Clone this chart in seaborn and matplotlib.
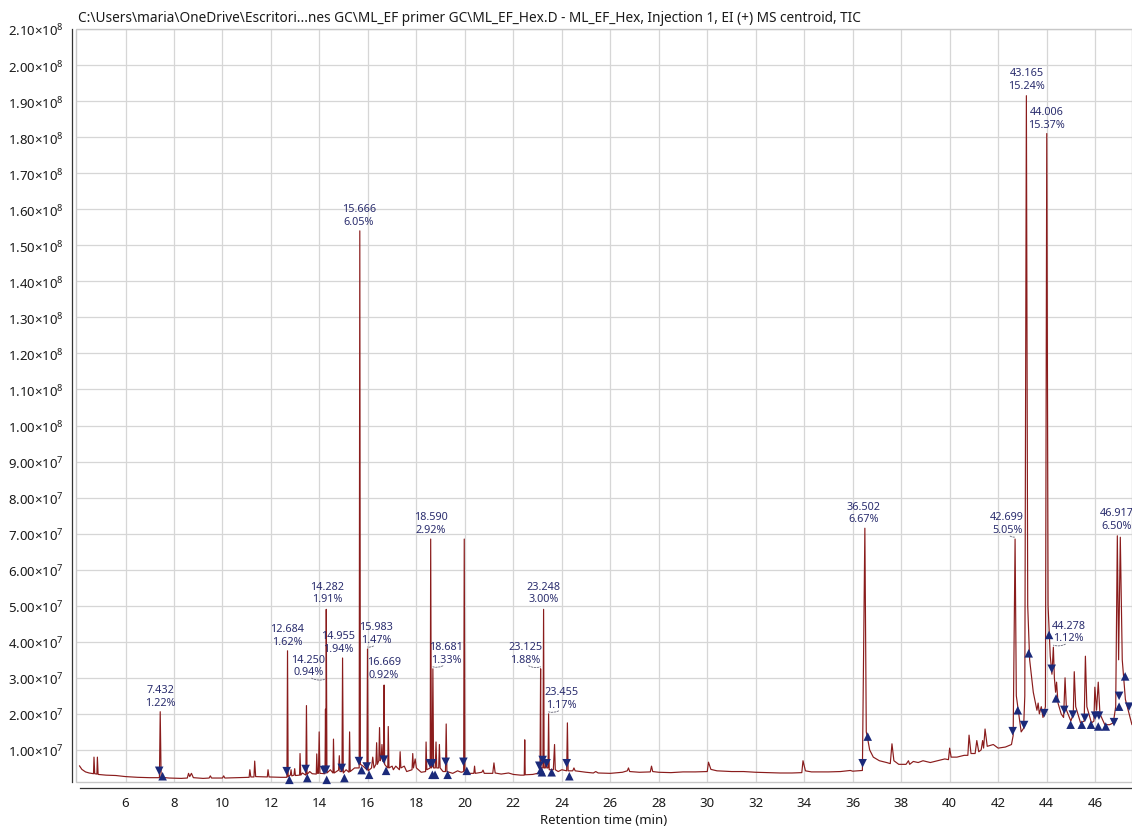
import numpy as np
import pandas as pd
import matplotlib
matplotlib.use("Agg")
import matplotlib.pyplot as plt
import matplotlib.ticker as mticker
import matplotlib.transforms as mtransforms
from matplotlib.patches import Rectangle
import seaborn as sns

# ---------------- data ----------------
trace_time = [
    4.10, 4.20, 4.35, 4.50, 4.68, 4.70, 4.73, 4.82, 4.84, 4.87, 5.20, 5.60, 6.00, 6.50, 7.00,
    7.40, 7.432, 7.47, 7.80, 8.30, 8.55, 8.60, 8.65, 8.72, 8.80, 9.20, 9.45, 9.50, 9.55, 10.00,
    10.05, 10.10, 10.60, 11.10, 11.13, 11.17, 11.30, 11.33, 11.37, 11.85, 11.88, 11.92, 12.40,
    12.66, 12.684, 12.71, 12.80, 12.83, 12.86, 12.95, 12.98, 13.01, 13.18, 13.20, 13.23, 13.30,
    13.44, 13.465, 13.49, 13.60, 13.70, 13.87, 13.89, 13.92, 13.96, 13.99, 14.02, 14.23, 14.25,
    14.265, 14.282, 14.31, 14.45, 14.56, 14.58, 14.61, 14.79, 14.82, 14.85, 14.93, 14.955, 14.985,
    15.10, 15.22, 15.245, 15.27, 15.45, 15.64, 15.666, 15.69, 15.80, 15.96, 15.983, 16.01, 16.15,
    16.20, 16.25, 16.33, 16.36, 16.39, 16.45, 16.48, 16.51, 16.55, 16.58, 16.62, 16.645, 16.669,
    16.69, 16.75, 16.82, 16.84, 16.87, 17.00, 17.05, 17.15, 17.30, 17.33, 17.36, 17.50, 17.60,
    17.82, 17.85, 17.88, 17.95, 18.00, 18.20, 18.38, 18.40, 18.43, 18.57, 18.59, 18.62, 18.65,
    18.681, 18.71, 18.78, 18.81, 18.84, 18.92, 18.95, 18.98, 19.10, 19.20, 19.23, 19.26, 19.50,
    19.70, 19.85, 19.95, 19.975, 20.00, 20.20, 20.37, 20.40, 20.43, 20.70, 20.75, 20.80, 21.15,
    21.20, 21.25, 21.50, 21.80, 22.00, 22.30, 22.45, 22.47, 22.49, 22.80, 23.00, 23.10, 23.125,
    23.14, 23.22, 23.248, 23.27, 23.32, 23.35, 23.38, 23.43, 23.455, 23.48, 23.65, 23.70, 23.73,
    23.85, 24.00, 24.20, 24.23, 24.26, 24.45, 24.50, 24.55, 25.00, 25.30, 25.40, 25.50, 26.00,
    26.50, 26.70, 26.75, 26.80, 27.20, 27.65, 27.70, 27.75, 28.00, 28.50, 29.00, 29.50, 30.00,
    30.05, 30.15, 30.40, 31.00, 31.50, 32.00, 32.50, 33.00, 33.50, 33.90, 33.95, 34.05, 34.30,
    35.00, 35.50, 35.90, 36.00, 36.40, 36.502, 36.56, 36.62, 36.70, 36.85, 37.10, 37.40, 37.55,
    37.62, 37.70, 37.90, 38.20, 38.30, 38.35, 38.50, 38.70, 38.90, 39.20, 39.50, 39.80, 39.95,
    40.00, 40.06, 40.30, 40.60, 40.75, 40.80, 40.88, 41.05, 41.12, 41.20, 41.30, 41.36, 41.40,
    41.46, 41.55, 41.80, 42.00, 42.30, 42.55, 42.62, 42.699, 42.75, 42.85, 42.95, 43.05, 43.10,
    43.165, 43.22, 43.30, 43.45, 43.60, 43.65, 43.70, 43.78, 43.85, 43.95, 44.006, 44.06, 44.15,
    44.22, 44.278, 44.32, 44.37, 44.41, 44.47, 44.60, 44.70, 44.76, 44.82, 45.00, 45.10, 45.14,
    45.20, 45.40, 45.55, 45.60, 45.66, 45.85, 45.95, 45.99, 46.06, 46.13, 46.20, 46.40, 46.60,
    46.75, 46.85, 46.917, 46.97, 47.04, 47.12, 47.25, 47.52,
]
trace_signal_e6 = [
    5.6, 4.6, 3.9, 3.6, 3.4, 8.0, 3.4, 3.3, 8.0, 3.2, 3.0, 2.9, 2.6, 2.4, 2.3,
    2.3, 20.6, 2.4, 2.2, 2.1, 2.2, 3.5, 2.6, 3.5, 2.3, 2.1, 2.2, 2.8, 2.2, 2.2,
    2.8, 2.2, 2.3, 2.4, 4.5, 2.5, 2.5, 6.9, 2.6, 2.5, 4.5, 2.5, 2.4,
    2.4, 37.5, 2.6, 3.0, 4.5, 2.8, 3.0, 4.8, 2.9, 3.0, 9.0, 3.0, 3.6,
    3.0, 22.3, 3.2, 4.0, 3.4, 3.3, 8.9, 3.5, 3.5, 15.0, 3.5, 3.4, 21.3,
    5.0, 49.0, 3.6, 4.5, 3.6, 13.0, 3.6, 4.4, 8.4, 4.0, 4.0, 35.5, 3.6,
    4.5, 3.8, 15.0, 4.0, 5.0, 5.0, 154.0, 6.0, 5.5, 4.5, 38.0, 4.2, 5.0,
    8.0, 5.0, 6.0, 12.0, 6.0, 7.0, 16.2, 7.0, 8.0, 11.5, 6.8, 7.0, 28.0,
    6.0, 5.5, 5.0, 16.5, 5.0, 5.5, 4.5, 5.5, 4.5, 9.5, 5.0, 5.5, 4.0,
    4.5, 9.0, 5.0, 7.5, 5.0, 3.8, 4.0, 12.2, 4.5, 5.0, 68.5, 5.0, 5.5,
    32.5, 5.0, 5.0, 12.2, 5.0, 5.0, 11.5, 5.0, 4.0, 4.0, 17.2, 4.0, 3.5,
    4.2, 3.8, 4.0, 68.5, 4.2, 3.5, 3.5, 5.5, 3.5, 3.8, 4.4, 3.5, 3.5,
    6.4, 3.6, 3.3, 3.6, 3.2, 3.0, 3.0, 12.8, 3.1, 3.2, 3.5, 4.0, 32.5,
    5.0, 5.0, 49.0, 5.0, 5.0, 7.0, 5.0, 5.0, 20.0, 4.5, 4.5, 11.5, 4.5,
    4.0, 4.5, 4.2, 17.5, 4.2, 4.2, 5.0, 4.2, 3.8, 3.6, 4.0, 3.6, 3.5,
    3.8, 4.2, 5.0, 4.0, 3.8, 3.9, 5.5, 4.0, 3.8, 3.7, 3.9, 3.9, 4.0,
    6.6, 4.6, 4.2, 4.0, 4.0, 3.8, 3.7, 3.6, 3.6, 3.7, 7.0, 4.2, 3.9,
    3.9, 4.0, 4.3, 4.1, 4.3, 71.5, 15.0, 13.0, 10.0, 8.0, 7.0, 6.5, 6.2,
    11.7, 7.0, 6.0, 6.0, 7.0, 6.0, 6.8, 6.5, 7.0, 6.5, 7.0, 7.5, 7.3,
    10.5, 8.0, 8.0, 8.5, 8.5, 14.1, 9.0, 9.0, 12.6, 9.5, 10.0, 12.6, 10.5,
    15.8, 11.0, 11.5, 10.5, 10.8, 11.5, 14.0, 68.5, 25.0, 20.0, 15.0, 16.0, 25.0,
    191.5, 50.0, 35.0, 26.0, 21.0, 23.0, 20.0, 22.0, 19.0, 22.0, 181.0, 50.0, 36.0,
    31.0, 38.5, 30.0, 26.0, 28.8, 23.0, 20.0, 19.0, 30.0, 21.0, 18.0, 20.0, 31.7,
    22.0, 17.5, 18.0, 36.0, 22.0, 17.5, 18.0, 27.4, 21.0, 28.8, 20.0, 17.0, 17.0,
    17.5, 22.0, 69.4, 35.0, 69.0, 35.0, 24.0, 17.0,
]

# labelled peaks
peak_rt = [7.432, 12.684, 14.250, 14.282, 14.955, 15.666, 15.983, 16.669, 18.590, 18.681,
           23.125, 23.248, 23.455, 36.502, 42.699, 43.165, 44.006, 44.278, 46.917]
peak_height_e6 = [20.6, 37.5, 21.3, 49.0, 35.5, 154.0, 38.0, 28.0, 68.5, 32.5,
                  32.5, 49.0, 20.0, 71.5, 68.5, 191.5, 181.0, 38.5, 69.4]
peak_area_pct = ["1.22%", "1.62%", "0.94%", "1.91%", "1.94%", "6.05%", "1.47%", "0.92%", "2.92%",
                 "1.33%", "1.88%", "3.00%", "1.17%", "6.67%", "5.05%", "15.24%", "15.37%",
                 "1.12%", "6.50%"]

# integration boundary markers
start_time = [7.39, 12.65, 13.43, 14.19, 14.27, 14.92, 15.63, 15.95, 16.66, 18.56, 18.66, 19.21,
              19.94, 23.07, 23.21, 23.37, 24.20, 36.41, 42.60, 43.07, 43.90, 44.21, 44.73, 45.08,
              45.58, 46.00, 46.16, 46.78, 46.99, 47.40]
start_signal_e6 = [4.2, 4.1, 4.7, 4.4, 4.5, 5.0, 6.9, 5.4, 7.3, 6.3, 6.3, 6.7,
                   6.7, 5.6, 7.2, 6.3, 6.3, 6.3, 15.2, 16.9, 20.2, 32.5, 21.1, 19.8,
                   18.9, 19.5, 19.5, 17.7, 25.0, 22.0]
end_time = [7.53, 12.76, 13.50, 14.30, 15.03, 15.74, 16.05, 16.75, 18.66, 18.77, 19.29, 20.08,
            23.13, 23.18, 23.58, 24.31, 36.62, 42.81, 43.26, 44.10, 44.39, 44.99, 45.45, 45.83,
            46.13, 46.44, 46.99, 47.24]
end_signal_e6 = [2.7, 1.7, 2.2, 1.7, 2.2, 4.4, 3.1, 4.2, 3.1, 3.1, 3.1, 4.2,
                 4.4, 3.8, 3.8, 2.7, 13.7, 21.0, 36.8, 41.9, 24.3, 17.0, 17.0, 17.0,
                 16.5, 16.5, 22.0, 30.4]

x_ticks = [6, 8, 10, 12, 14, 16, 18, 20, 22, 24, 26, 28, 30, 32, 34, 36, 38, 40, 42, 44, 46]
x_minor_ticks = [5, 7, 9, 11, 13, 15, 17, 19, 21, 23, 25, 27, 29, 31, 33, 35, 37, 39, 41, 43, 45, 47]
y_ticks_e7 = list(range(1, 22))

title_text = (r"C:\Users\maria\OneDrive\Escritori...nes GC\ML_EF primer GC\ML_EF_Hex.D"
              r" - ML_EF_Hex, Injection 1, EI (+) MS centroid, TIC")
x_label = "Retention time (min)"

# ---------------- label layout (pixel offsets: dx, gap above apex) ----------------
label_offsets_px = [(0, 4), (0, 4), (-17, 32), (1, 5), (-4, 4), (-1, 4), (9, 4), (0, 5), (0, 4),
                    (13, 4), (-15, 4), (0, 5), (13, 4), (-1, 4), (-8, 4), (0, 5), (0, 4),
                    (15, 4), (-1, 5)]
leader_flags = [False, False, True, False, False, False, True, False, False, True,
                True, False, True, False, True, False, False, True, False]

# ---------------- styling ----------------
TRACE = "#8a1c1c"
MARK = "#1b2a7a"
LABEL = "#2a2d6e"
GRID = "#d6d6d6"
AXIS = "#333333"

sns.set_theme(style="white")
plt.rcParams["font.family"] = ["Noto Sans", "DejaVu Sans"]
plt.rcParams["mathtext.fontset"] = "custom"
plt.rcParams["mathtext.rm"] = "Noto Sans"
plt.rcParams["mathtext.it"] = "Noto Sans"
plt.rcParams["mathtext.bf"] = "Noto Sans"

W, H = 1132, 829
fig = plt.figure(figsize=(W / 100, H / 100), dpi=100)
ax_left, ax_top, ax_bottom = 76, 30, 783
ax = fig.add_axes([ax_left / W, 1 - ax_bottom / H, 1 - ax_left / W, (ax_bottom - ax_top) / H])

px_per_min = 24.24
x0 = 6 - (125.5 - ax_left) / px_per_min
x1 = 6 + (W - 125.5) / px_per_min
ax.set_xlim(x0, x1)
ax.set_ylim(1.1e6, 2.1e8)

df = pd.DataFrame({"time": trace_time, "signal": np.array(trace_signal_e6) * 1e6})
sns.lineplot(data=df, x="time", y="signal", sort=False, estimator=None,
             color=TRACE, linewidth=0.85, ax=ax, zorder=3)

sns.scatterplot(x=start_time, y=np.array(start_signal_e6) * 1e6, marker="v", s=38,
                color=MARK, edgecolor="none", ax=ax, zorder=4, clip_on=False)
sns.scatterplot(x=end_time, y=np.array(end_signal_e6) * 1e6, marker="^", s=38,
                color=MARK, edgecolor="none", ax=ax, zorder=4, clip_on=False)

# peak labels
pt = 72 / 100  # points per pixel
for rt, h, pct, (dx, gap), lead in zip(peak_rt, peak_height_e6, peak_area_pct,
                                        label_offsets_px, leader_flags):
    ax.annotate(f"{rt:.3f}\n{pct}", xy=(rt, h * 1e6), xytext=(dx * pt, gap * pt),
                textcoords="offset points", ha="center", va="bottom", fontsize=7.8,
                color=LABEL, linespacing=1.2, zorder=5, annotation_clip=False)
    if lead:
        tr = mtransforms.offset_copy(ax.transData, fig=fig, x=0, y=(gap - 2) * pt, units="points")
        side = -1 if dx > 0 else 1
        ax.annotate("", xy=(rt, h * 1e6), xycoords=tr,
                    xytext=(rt, h * 1e6), textcoords=mtransforms.offset_copy(
                        ax.transData, fig=fig, x=(dx + side * 3) * pt, y=(gap - 1) * pt, units="points"),
                    arrowprops=dict(arrowstyle="-", color="#666677", lw=0.6,
                                    linestyle=(0, (2, 1.5)), shrinkA=0, shrinkB=0,
                                    connectionstyle="arc3,rad=-0.2" if dx > 0 else "arc3,rad=0.2"),
                    zorder=5)

# axes, ticks, grid
ax.xaxis.set_major_locator(mticker.FixedLocator(x_ticks))
ax.xaxis.set_minor_locator(mticker.FixedLocator(x_minor_ticks))
ax.yaxis.set_major_locator(mticker.FixedLocator([v * 1e7 for v in y_ticks_e7]))
ax.yaxis.set_minor_locator(mticker.FixedLocator([v * 1e7 - 5e6 for v in y_ticks_e7]))


def yfmt(v, pos):
    e = int(np.floor(np.log10(v) + 1e-9))
    m = v / 10 ** e
    return f"{m:.2f}×10$^{{{e}}}$"


ax.yaxis.set_major_formatter(mticker.FuncFormatter(yfmt))
ax.xaxis.set_major_formatter(mticker.FormatStrFormatter("%d"))

ax.grid(True, which="major", color=GRID, linewidth=0.9)
ax.set_axisbelow(True)
ax.tick_params(axis="both", which="major", direction="out", length=4, width=0.8,
               color=AXIS, labelcolor="#1a1a1a", labelsize=9.5, pad=1.5)
ax.tick_params(axis="both", which="minor", direction="out", length=2.5, width=0.8, color=AXIS)
ax.tick_params(axis="x", which="major", labelsize=9.5, pad=2)

for s in ["top", "right"]:
    ax.spines[s].set_visible(False)
ax.spines["left"].set_position(("outward", 3))
ax.spines["bottom"].set_position(("outward", 4.3))
ax.spines["left"].set_color(AXIS)
ax.spines["bottom"].set_color(AXIS)
ax.spines["left"].set_linewidth(0.9)
ax.spines["bottom"].set_linewidth(0.9)
ax.spines["bottom"].set_bounds(4.12, x1)
ax.add_patch(Rectangle((0, 0), 1, 1, transform=ax.transAxes, fill=False,
                       edgecolor="#c8c8c8", linewidth=1.0, zorder=1, clip_on=False))

ax.set_xlabel(x_label, fontsize=9.5, color="#1a1a1a")
ax.set_ylabel("")
ax.xaxis.set_label_coords(0.5, (ax_bottom - 814) / (ax_bottom - ax_top))

fig.text(78 / W, 1 - 18 / H, title_text, ha="left", va="center", fontsize=9.8, color="#1a1a1a")

fig.savefig("out.png", dpi=100)
